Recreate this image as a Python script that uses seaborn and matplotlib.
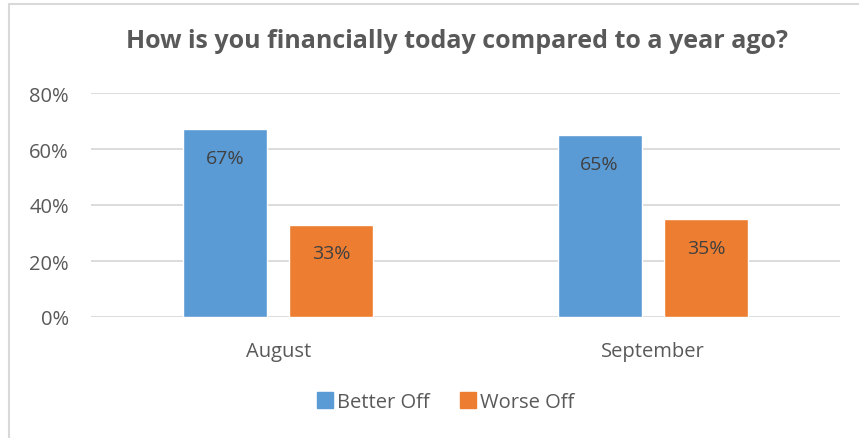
import seaborn as sns
import matplotlib.pyplot as plt
import pandas as pd
from matplotlib.lines import Line2D
from matplotlib.ticker import PercentFormatter

months = ["August", "September"]
series = ["Better Off", "Worse Off"]
better_off = [0.67, 0.65]
worse_off = [0.33, 0.35]
colors = ["#5B9BD5", "#ED7D31"]
title = "How is you financially today compared to a year ago?"

df = pd.DataFrame({
    "month": months * 2,
    "status": [series[0]] * 2 + [series[1]] * 2,
    "share": better_off + worse_off,
})

sns.set_theme(style="white")
plt.rcParams["font.family"] = ["Open Sans", "DejaVu Sans"]
text_color = "#595959"

fig = plt.figure(figsize=(8.59, 4.39), dpi=100)
ax = fig.add_axes([91 / 859, 121 / 439, 749 / 859, 224 / 439])

sns.barplot(data=df, x="month", y="share", hue="status", palette=colors,
            width=0.568, gap=0.211, saturation=1, ax=ax, legend=False)

for cont in ax.containers:
    ax.bar_label(cont, labels=[f"{v:.0%}" for v in cont.datavalues],
                 padding=-27, fontsize=14, color="#404040")

ax.set_ylim(0, 0.8)
ax.set_xlim(-0.5, 1.5)
ax.set_yticks([0, 0.2, 0.4, 0.6, 0.8])
ax.yaxis.set_major_formatter(PercentFormatter(1.0, decimals=0))
ax.grid(axis="y", color="#D9D9D9", linewidth=1.3)
ax.set_axisbelow(True)
for s in ax.spines.values():
    s.set_visible(False)
ax.tick_params(axis="both", length=0, labelsize=14.5, labelcolor=text_color)
ax.tick_params(axis="y", pad=16)
ax.tick_params(axis="x", pad=17)
ax.set_xlabel("")
ax.set_ylabel("")

fig.text(457 / 859, 1 - 42 / 439, title, ha="center", va="center",
         fontsize=18, fontweight="bold", color=text_color)

handles = [Line2D([], [], marker="s", linestyle="", markersize=11,
                  markerfacecolor=c, markeredgecolor=c) for c in colors]
fig.legend(handles, series, loc="center", bbox_to_anchor=(445 / 859, 1 - 403 / 439),
           ncol=2, frameon=False, fontsize=14.5, labelcolor=text_color,
           handletextpad=0.1, columnspacing=1.4, handlelength=1.0)

# chart frame (top and left edges visible)
fig.add_artist(Line2D([9 / 859, 9 / 859], [0, 1 - 5 / 439], color="#D9D9D9", linewidth=1.5))
fig.add_artist(Line2D([9 / 859, 1], [1 - 5 / 439, 1 - 5 / 439], color="#D9D9D9", linewidth=1.5))

fig.savefig("out.png", dpi=100)
